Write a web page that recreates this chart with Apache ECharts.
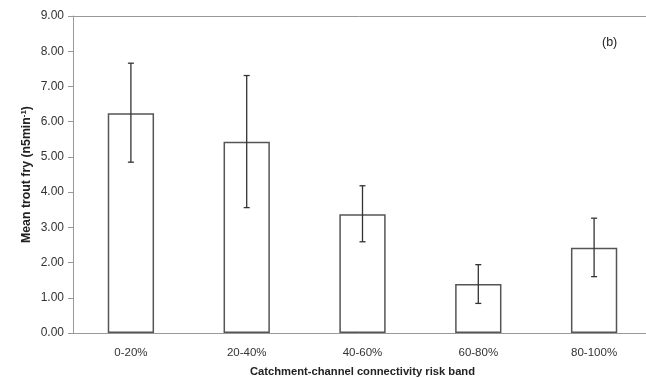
<!DOCTYPE html>
<html>
<head>
<meta charset="utf-8">
<script src="https://cdn.jsdelivr.net/npm/echarts@6/dist/echarts.min.js"></script>
<style>html,body{margin:0;padding:0;background:#fff;}#c{width:646px;height:378px;}</style>
</head>
<body>
<div id="c"></div>
<script>
var categories = ['0-20%', '20-40%', '40-60%', '60-80%', '80-100%'];
var means = [6.24, 5.43, 3.37, 1.39, 2.42];
var upper = [7.66, 7.31, 4.18, 1.94, 3.26];
var lower = [4.85, 3.56, 2.59, 0.84, 1.60];
var yTicks = [0, 1, 2, 3, 4, 5, 6, 7, 8, 9];

var chart = echarts.init(document.getElementById('c'));
var FONT = 'Liberation Sans, Arial, sans-serif';
var errData = categories.map(function (c, i) { return [i, lower[i], upper[i]]; });

chart.setOption({
  animation: false,
  backgroundColor: '#fff',
  grid: { left: 73, top: 16, width: 579, bottom: 45, containLabel: false, outerBoundsMode: 'none' },
  graphic: [{
    type: 'text', left: 602, top: 36,
    style: { text: '(b)', font: '12.5px ' + FONT, fill: '#222' }
  }],
  xAxis: [{
    type: 'category', data: categories, position: 'bottom',
    axisLine: { lineStyle: { color: '#999', width: 1 } },
    axisTick: { show: false },
    axisLabel: { color: '#333', fontFamily: FONT, fontSize: 11.5, margin: 14 },
    name: 'Catchment-channel connectivity risk band', nameLocation: 'middle', nameGap: 33,
    nameMoveOverlap: false,
    nameTextStyle: { fontFamily: FONT, fontSize: 11.2, fontWeight: 'bold', color: '#222' }
  }, {
    type: 'category', data: categories, position: 'top',
    axisLine: { show: true, lineStyle: { color: '#999', width: 1 } },
    axisTick: { show: false }, axisLabel: { show: false }
  }],
  yAxis: {
    type: 'value', min: yTicks[0], max: yTicks[yTicks.length - 1], interval: 1,
    axisLine: { show: true, lineStyle: { color: '#999', width: 1 } },
    axisTick: { show: true, inside: false, length: 5, lineStyle: { color: '#999' } },
    splitLine: { show: false },
    axisLabel: { color: '#333', fontFamily: FONT, fontSize: 12, margin: 9,
      formatter: function (v) { return v.toFixed(2); } },
    name: '{a|Mean trout fry (n5min}{s|-1}{a|)}', nameLocation: 'middle', nameGap: 39,
    nameMoveOverlap: false,
    nameTextStyle: {
      rich: {
        a: { fontFamily: FONT, fontSize: 12.3, fontWeight: 'bold', color: '#222' },
        s: { fontFamily: FONT, fontSize: 8, fontWeight: 'bold', color: '#222', verticalAlign: 'top', padding: [0, 0, 6, 0] }
      }
    }
  },
  series: [{
    type: 'bar', data: means, barWidth: '40%',
    itemStyle: { color: '#fff', borderColor: '#555', borderWidth: 1.5 }
  }, {
    type: 'custom', data: errData, z: 5,
    renderItem: function (params, api) {
      var i = api.value(0);
      var lo = api.coord([i, api.value(1)]);
      var hi = api.coord([i, api.value(2)]);
      var cw = 3;
      var st = { stroke: '#333', lineWidth: 1.3 };
      return { type: 'group', children: [
        { type: 'line', shape: { x1: hi[0], y1: hi[1], x2: lo[0], y2: lo[1] }, style: st },
        { type: 'line', shape: { x1: hi[0] - cw, y1: hi[1], x2: hi[0] + cw, y2: hi[1] }, style: st },
        { type: 'line', shape: { x1: lo[0] - cw, y1: lo[1], x2: lo[0] + cw, y2: lo[1] }, style: st }
      ] };
    }
  }]
});
</script>
</body>
</html>
